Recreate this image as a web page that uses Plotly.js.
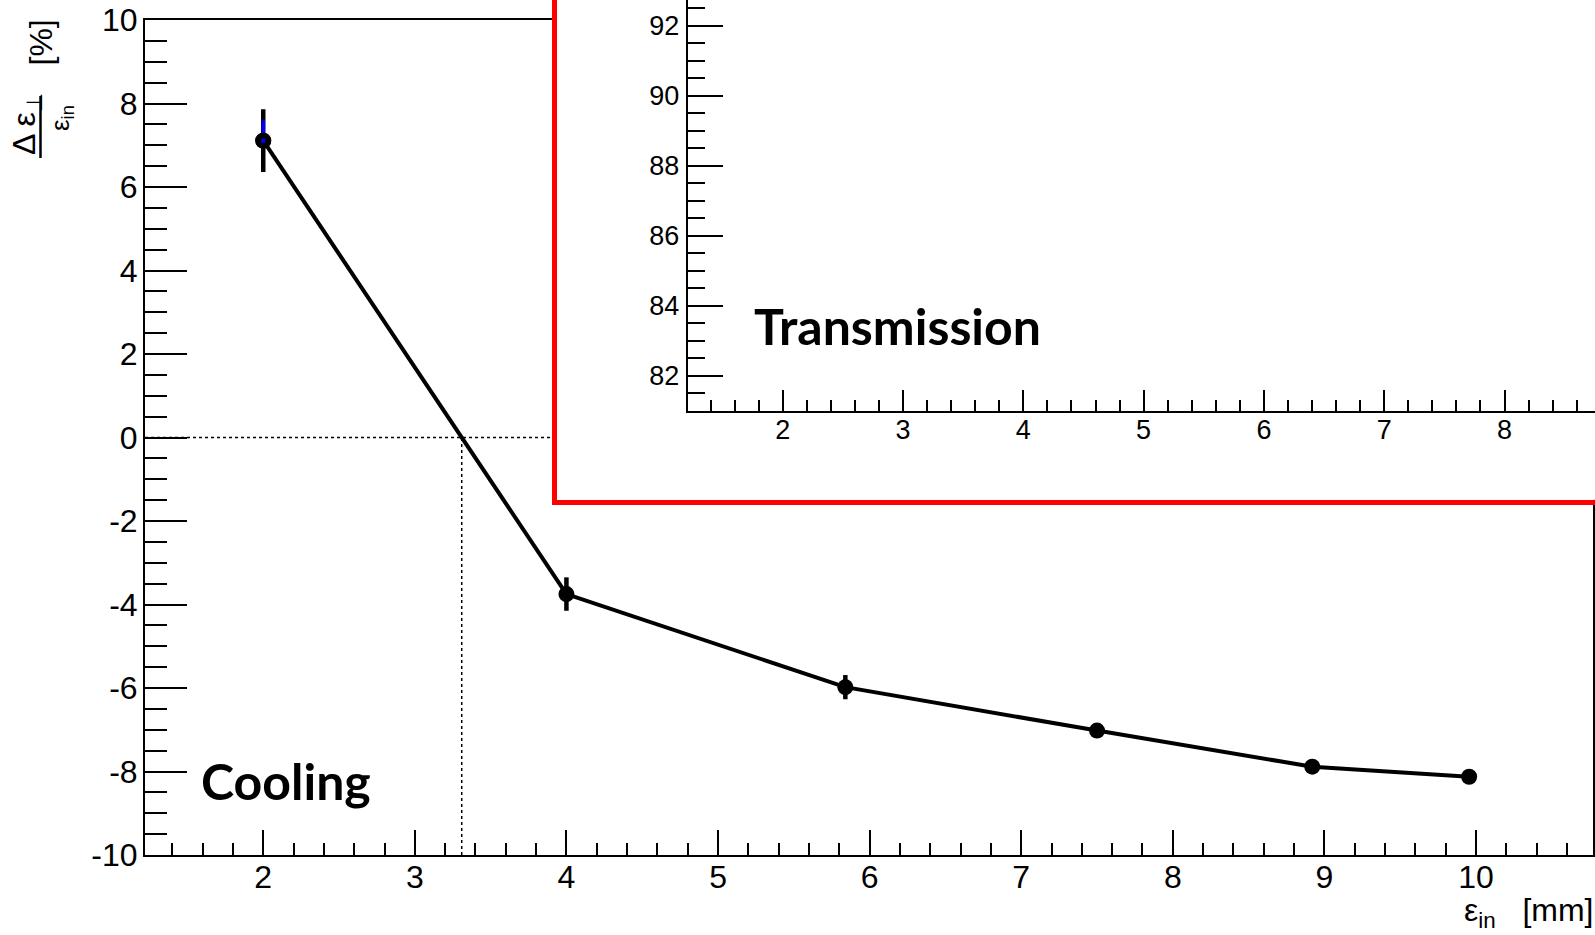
<!DOCTYPE html>
<html><head><meta charset="utf-8">
<script src="https://cdn.plot.ly/plotly-3.0.1.min.js"></script>
<style>html,body{margin:0;padding:0;background:#fff;}#chart{width:1595px;height:935px;}</style>
</head><body><div id="chart"></div>
<script>
// ---- data ----
const emittanceIn = [2.0, 4.0, 5.84, 7.5, 8.92, 9.955];
const coolingPct = [7.11, -3.75, -5.98, -7.02, -7.885, -8.125];
const coolingErr = [0.75, 0.40, 0.29, 0.15, 0.12, 0.10];
const blueX = [2.0];
const blueY = [7.11];
const blueErrUp = [0.49];
const blueErrDown = [0];
const mainXTicks = [2, 3, 4, 5, 6, 7, 8, 9, 10];
const mainXLabels = ['2', '3', '4', '5', '6', '7', '8', '9', '10'];
const mainYTicks = [-10, -8, -6, -4, -2, 0, 2, 4, 6, 8, 10];
const mainYLabels = ['-10', '-8', '-6', '-4', '-2', '0', '2', '4', '6', '8', '10'];
const insetXTicks = [2, 3, 4, 5, 6, 7, 8];
const insetXLabels = ['2', '3', '4', '5', '6', '7', '8'];
const insetYTicks = [82, 84, 86, 88, 90, 92];
const insetYLabels = ['82', '84', '86', '88', '90', '92'];
const mainXRange = [1.22, 10.77];
const mainYRange = [-10, 10];
const insetXRange = [1.21, 8.752];
const insetYRange = [81, 92.734];

// zero crossing between the first two points
const xCross = emittanceIn[0] + (0 - coolingPct[0]) * (emittanceIn[1] - emittanceIn[0]) / (coolingPct[1] - coolingPct[0]);

const W = 1595, H = 935;
const px = v => v / W;
const py = v => 1 - v / H;
const FAM = 'Liberation Sans, Arial, Helvetica, sans-serif';
const tickFont = {family: FAM, size: 32, color: 'black'};
const insetFont = {family: FAM, size: 27, color: 'black'};

const traces = [
  {x: emittanceIn, y: coolingPct, xaxis: 'x', yaxis: 'y', type: 'scatter', mode: 'lines+markers',
   line: {color: 'black', width: 4},
   marker: {color: 'black', size: 16, symbol: 'circle'},
   error_y: {type: 'data', array: coolingErr, visible: true, color: 'black', thickness: 4.5, width: 0},
   hoverinfo: 'skip'},
  {x: blueX, y: blueY, xaxis: 'x', yaxis: 'y', type: 'scatter', mode: 'markers',
   marker: {color: 'black', size: 16, symbol: 'circle'},
   error_y: {type: 'data', symmetric: false, array: blueErrUp, arrayminus: blueErrDown, visible: true, color: 'blue', thickness: 3.5, width: 0},
   hoverinfo: 'skip'},
  {x: blueX, y: blueY, xaxis: 'x', yaxis: 'y', type: 'scatter', mode: 'markers',
   marker: {color: 'blue', size: 4, symbol: 'square'}, hoverinfo: 'skip'},
  {x: [], y: [], xaxis: 'x2', yaxis: 'y2', type: 'scatter', mode: 'markers', hoverinfo: 'skip'},
  {x: [], y: [], xaxis: 'x3', yaxis: 'y3', type: 'scatter', mode: 'markers', hoverinfo: 'skip'}
];

const common = {showgrid: false, zeroline: false, ticks: 'inside', tickcolor: 'black', tickwidth: 2,
  showline: true, linecolor: 'black', linewidth: 2, tickmode: 'array', fixedrange: true};

const layout = {
  width: W, height: H, margin: {l: 0, r: 0, t: 0, b: 0, pad: 0},
  paper_bgcolor: 'white', plot_bgcolor: 'white', showlegend: false,
  xaxis: Object.assign({}, common, {
    domain: [px(145), px(1592.7)], range: mainXRange, anchor: 'y', mirror: true,
    tickvals: mainXTicks, ticktext: mainXLabels, ticklen: 25, tickfont: tickFont, ticklabelstandoff: -7,
    minor: {tickmode: 'linear', tick0: 0, dtick: 0.2, ticks: 'inside', ticklen: 12, tickwidth: 2, tickcolor: 'black'}
  }),
  yaxis: Object.assign({}, common, {
    domain: [py(855), py(20)], range: mainYRange, anchor: 'x', mirror: true,
    tickvals: mainYTicks, ticktext: mainYLabels, ticklen: 42, tickfont: tickFont, ticklabelstandoff: -1,
    minor: {tickmode: 'linear', tick0: 0, dtick: 0.5, ticks: 'inside', ticklen: 22, tickwidth: 2, tickcolor: 'black'}
  }),
  xaxis2: {domain: [px(557), 1], range: [0, 1], anchor: 'y2', showline: true, linecolor: 'red', linewidth: 5,
    showticklabels: false, ticks: '', showgrid: false, zeroline: false, fixedrange: true},
  yaxis2: {domain: [py(499.8), 1], range: [0, 1], anchor: 'x2', showline: true, linecolor: 'red', linewidth: 5,
    showticklabels: false, ticks: '', showgrid: false, zeroline: false, fixedrange: true},
  xaxis3: Object.assign({}, common, {
    domain: [px(687.7), 1], range: insetXRange, anchor: 'y3',
    tickvals: insetXTicks, ticktext: insetXLabels, ticklen: 21, tickfont: insetFont, ticklabelstandoff: -6,
    minor: {tickmode: 'linear', tick0: 0, dtick: 0.2, ticks: 'inside', ticklen: 11, tickwidth: 2, tickcolor: 'black'}
  }),
  yaxis3: Object.assign({}, common, {
    domain: [py(410.7), 1], range: insetYRange, anchor: 'x3',
    tickvals: insetYTicks, ticktext: insetYLabels, ticklen: 35, tickfont: insetFont, ticklabelstandoff: 1,
    minor: {tickmode: 'linear', tick0: 0, dtick: 0.5, ticks: 'inside', ticklen: 17, tickwidth: 2, tickcolor: 'black'}
  }),
  shapes: [
    {type: 'line', xref: 'x', yref: 'y', x0: mainXRange[0], x1: mainXRange[1], y0: 0, y1: 0,
     line: {color: 'black', width: 1.5, dash: 'dot'}, layer: 'below'},
    {type: 'line', xref: 'x', yref: 'y', x0: xCross, x1: xCross, y0: mainYRange[0], y1: 0,
     line: {color: 'black', width: 1.5, dash: 'dot'}, layer: 'below'},
    {type: 'line', xref: 'paper', yref: 'paper', x0: px(40.5), x1: px(40.5), y0: py(96), y1: py(158),
     line: {color: 'black', width: 2.5}, layer: 'above'}
  ],
  annotations: [
    {text: 'Cooling', xref: 'paper', yref: 'paper', x: px(199), y: py(781), xanchor: 'left', yanchor: 'middle',
     showarrow: false, font: {family: 'Lato, sans-serif', size: 50, color: 'black', weight: 'bold'}},
    {text: 'Transmission', xref: 'paper', yref: 'paper', x: px(752), y: py(326), xanchor: 'left', yanchor: 'middle',
     showarrow: false, font: {family: 'Lato, sans-serif', size: 50, color: 'black', weight: 'bold'}},
    {text: 'ε<sub>in</sub>&nbsp;&nbsp;&nbsp;[mm]', xref: 'paper', yref: 'paper', x: px(1595), y: py(912), xanchor: 'right', yanchor: 'middle',
     showarrow: false, font: tickFont},
    {text: 'Δ ε<sub>⊥</sub>', xref: 'paper', yref: 'paper', x: px(27), y: py(124), xanchor: 'center', yanchor: 'middle',
     textangle: -90, showarrow: false, font: {family: FAM, size: 32, color: 'black'}},
    {text: 'ε<sub>in</sub>', xref: 'paper', yref: 'paper', x: px(61), y: py(118), xanchor: 'center', yanchor: 'middle',
     textangle: -90, showarrow: false, font: {family: FAM, size: 26, color: 'black'}},
    {text: '[%]', xref: 'paper', yref: 'paper', x: px(40.5), y: py(43), xanchor: 'center', yanchor: 'middle',
     textangle: -90, showarrow: false, font: {family: FAM, size: 32, color: 'black'}}
  ]
};

Plotly.newPlot('chart', traces, layout, {staticPlot: true, displayModeBar: false});
</script>
</body></html>
